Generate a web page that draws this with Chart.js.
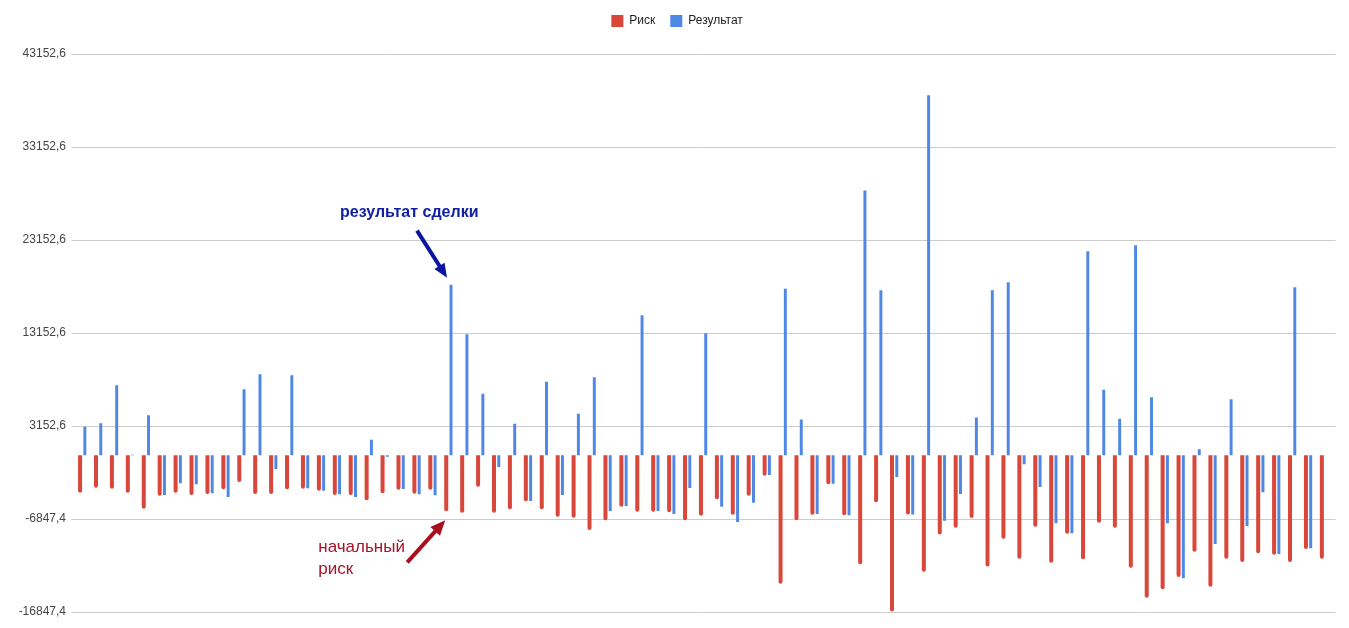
<!DOCTYPE html>
<html>
<head>
<meta charset="utf-8">
<script src="https://cdn.jsdelivr.net/npm/chart.js@4/dist/chart.umd.min.js"></script>
<style>
html,body{margin:0;padding:0;background:#ffffff;}
#wrap{width:1349px;height:628px;position:relative;}
</style>
</head>
<body>
<div id="wrap"><canvas id="c" width="1349" height="628"></canvas></div>
<script>
const categories = ['1','2','3','4','5','6','7','8','9','10','11','12','13','14','15','16','17','18','19','20',
  '21','22','23','24','25','26','27','28','29','30','31','32','33','34','35','36','37','38','39','40',
  '41','42','43','44','45','46','47','48','49','50','51','52','53','54','55','56','57','58','59','60',
  '61','62','63','64','65','66','67','68','69','70','71','72','73','74','75','76','77','78','79'];

const riskValues = [
  -4014, -3476, -3584, -4014, -5734, -4337, -4014, -4265, -4158, -3656,
  -2867, -4158, -4158, -3656, -3584, -3799, -4265, -4265, -4838, -4086,
  -3691, -4122, -3691, -6021, -6164, -3369, -6164, -5806, -4946, -5806,
  -6595, -6702, -8028, -6989, -5519, -6057, -6057, -6129, -6989, -6487,
  -4731, -6380, -4337, -2186, -13797, -6989, -6380, -3118, -6445, -11705,
  -5037, -16800, -6371, -12520, -8519, -7778, -6741, -11964, -8980, -11110,
  -7670, -11540, -8422, -11182, -7240, -7777, -12078, -15304, -14408, -13082,
  -10358, -14121, -11110, -11469, -10537, -10680, -11469, -10071, -11110
];

const resultValues = [
  3082, 3440, 7526, 50, 4301, -4265, -3011, -3118, -4086, -4480,
  7096, 8709, -1469, 8602, -3548, -3799, -4193, -4480, 1684, -150,
  -3620, -4193, -4301, 18350, 13010, 6630, -1254, 3405, -4910, 7921,
  -4265, 4480, 8387, -5985, -5448, 15053, -5985, -6308, -3512, 13117,
  -5519, -7168, -5100, -2120, 17909, 3850, -6315, -3070, -6445, 28484,
  17742, -2334, -6371, 38707, -7038, -4148, 4074, 17742, 18600, -968,
  -3405, -7311, -8387, 21934, 7060, 3942, 22579, 6236, -7311, -13225,
  645, -9533, 6021, -7598, -3978, -10609, 18063, -9999, 0
];

const yTickValues = [-16847.4, -6847.4, 3152.6, 13152.6, 23152.6, 33152.6, 43152.6];
const seriesLabels = ['Риск', 'Результат'];
const annotationTexts = { result: 'результат сделки', riskLine1: 'начальный', riskLine2: 'риск' };
const annotatedIndex = 23;

const FONT = '"Liberation Sans", Arial, Helvetica, sans-serif';

function drawArrow(ctx, x1, y1, x2, y2, color, lw, headLen, headW) {
  const ang = Math.atan2(y2 - y1, x2 - x1);
  const bx = x2 - headLen * Math.cos(ang);
  const by = y2 - headLen * Math.sin(ang);
  ctx.save();
  ctx.strokeStyle = color;
  ctx.fillStyle = color;
  ctx.lineWidth = lw;
  ctx.lineCap = 'butt';
  ctx.beginPath();
  ctx.moveTo(x1, y1);
  ctx.lineTo(bx + Math.cos(ang), by + Math.sin(ang));
  ctx.stroke();
  const px = -Math.sin(ang), py = Math.cos(ang);
  ctx.beginPath();
  ctx.moveTo(x2, y2);
  ctx.lineTo(bx + px * headW / 2, by + py * headW / 2);
  ctx.lineTo(bx - px * headW / 2, by - py * headW / 2);
  ctx.closePath();
  ctx.fill();
  ctx.restore();
}

const legendFitPlugin = {
  id: 'legendFit',
  beforeInit(chart) {
    const lg = chart.legend;
    if (!lg) return;
    const orig = lg.fit;
    lg.fit = function () { orig.call(this); this.height = 54; };
  },
  afterLayout(chart) {
    const lg = chart.legend;
    if (!lg) return;
    lg.left += 11; lg.right += 11;
  }
};

// extends the horizontal gridlines slightly past the plot's right edge, as in the source
const gridExtendPlugin = {
  id: 'gridExtend',
  beforeDatasetsDraw(chart) {
    const y = chart.scales.y;
    const area = chart.chartArea;
    const ctx = chart.ctx;
    ctx.save();
    ctx.strokeStyle = '#cccccc';
    ctx.lineWidth = 1;
    y.ticks.forEach(t => {
      const py = Math.round(y.getPixelForValue(t.value)) + 0.5;
      ctx.beginPath();
      ctx.moveTo(area.right, py);
      ctx.lineTo(area.right + 3.5, py);
      ctx.stroke();
    });
    ctx.restore();
  }
};

const annotationPlugin = {
  id: 'annot',
  afterDraw(chart) {
    const ctx = chart.ctx;
    const blue = chart.getDatasetMeta(1).data[annotatedIndex];
    const red = chart.getDatasetMeta(0).data[annotatedIndex];
    ctx.save();
    ctx.font = 'bold 16px ' + FONT;
    ctx.fillStyle = '#1020a0';
    ctx.textBaseline = 'middle';
    ctx.textAlign = 'left';
    ctx.fillText(annotationTexts.result, blue.x - 111, blue.y - 72);
    drawArrow(ctx, blue.x - 34, blue.y - 54, blue.x - 4, blue.y - 7, '#0b15a0', 4, 14, 12);
    ctx.font = '17px ' + FONT;
    ctx.fillStyle = '#a8122a';
    ctx.fillText(annotationTexts.riskLine1, red.x - 128, red.y + 36);
    ctx.fillText(annotationTexts.riskLine2, red.x - 128, red.y + 58);
    drawArrow(ctx, red.x - 39, red.y + 51, red.x - 1, red.y + 9, '#a8101f', 4, 15, 13);
    ctx.restore();
  }
};

new Chart(document.getElementById('c'), {
  type: 'bar',
  data: {
    labels: categories,
    datasets: [
      {
        label: seriesLabels[0],
        data: riskValues,
        backgroundColor: '#d9473a',
        borderWidth: 0,
        barPercentage: 0.84,
        categoryPercentage: 0.6,
        borderRadius: 2,
        borderSkipped: 'start'
      },
      {
        label: seriesLabels[1],
        data: resultValues,
        backgroundColor: '#4f88e4',
        borderWidth: 0,
        barPercentage: 0.62,
        categoryPercentage: 0.6
      }
    ]
  },
  options: {
    responsive: false,
    animation: false,
    devicePixelRatio: 1,
    layout: { padding: { left: 0, right: 16.8, top: 0, bottom: 16 } },
    plugins: {
      legend: {
        position: 'top',
        labels: {
          boxWidth: 12,
          boxHeight: 12,
          padding: 15,
          color: '#222222',
          font: { family: FONT, size: 12 }
        }
      },
      tooltip: { enabled: false }
    },
    scales: {
      x: {
        display: false,
        offset: true,
        grid: { offset: true, display: false }
      },
      y: {
        min: yTickValues[0],
        max: yTickValues[yTickValues.length - 1],
        afterBuildTicks: (s) => { s.ticks = yTickValues.map(v => ({ value: v })); },
        afterFit: (s) => { s.width = 74.5; },
        border: { display: false },
        grid: { color: '#cccccc', tickColor: '#cccccc', tickLength: 3, drawTicks: true, lineWidth: 1 },
        ticks: {
          padding: 5.5,
          color: '#444444',
          font: { family: FONT, size: 12 },
          callback: (v) => Number(v).toFixed(1).replace('.', ',')
        }
      }
    }
  },
  plugins: [legendFitPlugin, gridExtendPlugin, annotationPlugin]
});
</script>
</body>
</html>
